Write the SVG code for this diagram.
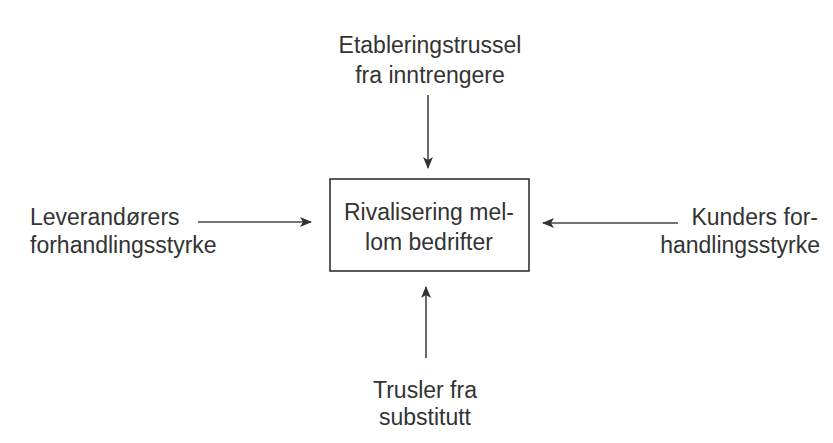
<svg xmlns="http://www.w3.org/2000/svg" width="833" height="443" viewBox="0 0 833 443">
<style>
text{font-family:"Liberation Sans",Arial,sans-serif;font-size:23px;fill:#333}
.c{text-anchor:middle}
.r{text-anchor:end}
.ln{stroke:#444;stroke-width:1.6;fill:none}
</style>
<defs>
<marker id="ah" viewBox="0 0 12 10" refX="11" refY="5" markerWidth="12" markerHeight="10" markerUnits="userSpaceOnUse" orient="auto">
<path d="M0,0 L12,5 L0,10 L3,5 Z" fill="#333"/>
</marker>
</defs>
<rect width="833" height="443" fill="#fff"/>
<g id="connectors">
<line class="ln" x1="428" y1="95" x2="428" y2="168" marker-end="url(#ah)"/>
<line class="ln" x1="198" y1="222" x2="311" y2="222" marker-end="url(#ah)"/>
<line class="ln" x1="678" y1="223" x2="543" y2="223" marker-end="url(#ah)"/>
<line class="ln" x1="426" y1="358" x2="426" y2="287" marker-end="url(#ah)"/>
</g>
<g id="center">
<rect x="330" y="179" width="199" height="92" fill="none" stroke="#333" stroke-width="1.6"/>
<text class="c" x="429" y="220">Rivalisering mel-</text>
<text class="c" x="429" y="250">lom bedrifter</text>
</g>
<g id="top">
<text class="c" x="430" y="53">Etableringstrussel</text>
<text class="c" x="430" y="83">fra inntrengere</text>
</g>
<g id="left">
<text x="30" y="225">Leverandørers</text>
<text x="30" y="253">forhandlingsstyrke</text>
</g>
<g id="right">
<text class="r" x="818" y="225">Kunders for-</text>
<text class="r" x="820" y="253">handlingsstyrke</text>
</g>
<g id="bottom">
<text class="c" x="425" y="398">Trusler fra</text>
<text class="c" x="425" y="425">substitutt</text>
</g>
</svg>
